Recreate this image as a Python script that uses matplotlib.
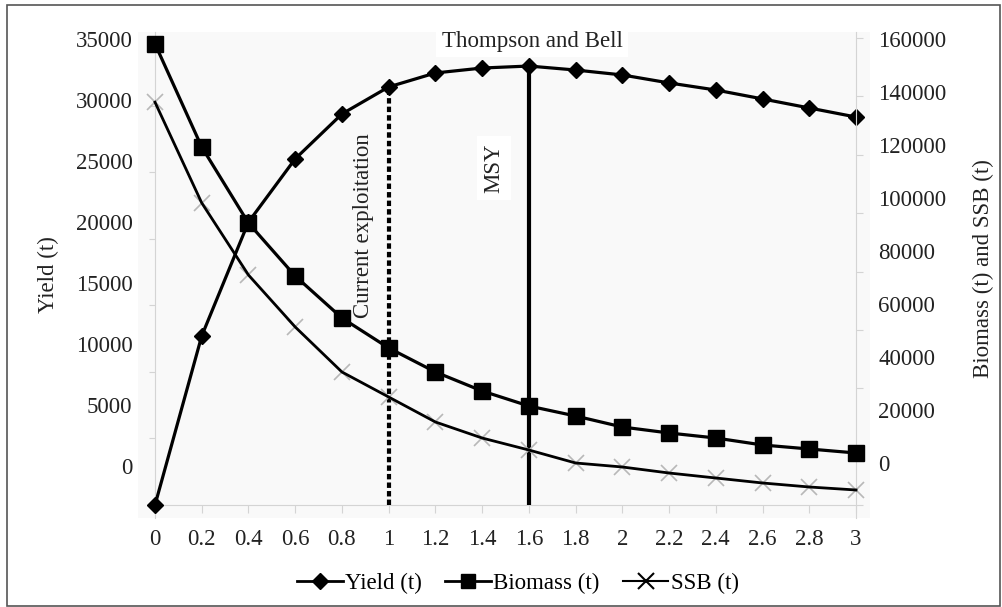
import matplotlib
matplotlib.use("Agg")
import matplotlib.pyplot as plt
from matplotlib.patches import Rectangle
from matplotlib.lines import Line2D

plt.rcParams['font.family'] = ['Liberation Serif', 'DejaVu Serif']

# ---- data ----
F = [0, 0.2, 0.4, 0.6, 0.8, 1.0, 1.2, 1.4, 1.6, 1.8, 2.0, 2.2, 2.4, 2.6, 2.8, 3.0]
yield_t = [0, 12700, 21250, 26000, 29370, 31400, 32450, 32820, 32970, 32670,
           32300, 31700, 31170, 30500, 29820, 29140]
biomass_t = [158000, 122650, 96600, 78450, 64070, 53800, 45570, 39060, 33920,
             30490, 26720, 24670, 22950, 20560, 19190, 17820]
ssb_t = [138000, 103500, 78800, 61000, 45570, 37000, 28440, 22950, 18840,
         14390, 13020, 10960, 9250, 7540, 6170, 5140]
x_ticks = [0, 0.2, 0.4, 0.6, 0.8, 1, 1.2, 1.4, 1.6, 1.8, 2, 2.2, 2.4, 2.6, 2.8, 3]
left_ticks = [0, 5000, 10000, 15000, 20000, 25000, 30000, 35000]
right_ticks = [0, 20000, 40000, 60000, 80000, 100000, 120000, 140000, 160000]
current_F = 1.0
msy_F = 1.6

FS = 16.5
TXT = '#222222'

W, H = 1002, 607
fig = plt.figure(figsize=(W / 100, H / 100), dpi=100)

def fx(px):
    return px / W

def fy(py):
    return 1 - py / H

# outer frame
fig.patches.append(Rectangle((fx(7), fy(606)), fx(993), 601 / H, transform=fig.transFigure,
                             fill=False, edgecolor='#555555', linewidth=1.2))

rect = [fx(138), fy(518), 732 / W, 486 / H]
ax = fig.add_axes(rect)
ax.set_facecolor('#f9f9f9')
ax.set_xlim(-17 / 233.67, 3 + 14 / 233.67)
ax.set_ylim(-976, 35526)

spine_c = '#d4d4d4'
for s in ['top', 'right']:
    ax.spines[s].set_visible(False)
ax.spines['left'].set_position(('data', 0))
ax.spines['bottom'].set_position(('data', 0))
ax.spines['left'].set_color(spine_c)
ax.spines['bottom'].set_color(spine_c)
ax.spines['bottom'].set_bounds(0, 3)
ax.set_xticks(x_ticks)
ax.set_xticklabels([('%g' % v) for v in x_ticks], fontsize=FS, color=TXT)
ax.set_yticks(left_ticks)
ax.tick_params(axis='y', labelleft=False, length=4, color=spine_c)
ax.tick_params(axis='x', length=6, color=spine_c, pad=11)

ax2 = ax.twinx()
ax2.set_ylim(-4454, 162056)
for s in ['top', 'left', 'bottom']:
    ax2.spines[s].set_visible(False)
ax2.spines['right'].set_position(('data', 3))
ax2.spines['right'].set_color(spine_c)
ax2.set_yticks(right_ticks)
ax2.tick_params(axis='y', labelright=False, length=5, color=spine_c)

# vertical reference lines
ax.vlines(current_F, 0, yield_t[F.index(current_F)], colors='black', linewidth=3,
          linestyles=(0, (1.3, 0.75)), zorder=3)
ax.vlines(msy_F, 0, yield_t[F.index(msy_F)], colors='black', linewidth=3, zorder=3)

# series
ax.plot(F, yield_t, color='black', linewidth=2.3, marker='D', markersize=8.5, zorder=4,
        clip_on=False)
ax2.plot(F, biomass_t, color='black', linewidth=2.3, marker='s', markersize=12, zorder=4,
         clip_on=False)
ax2.plot(F, ssb_t, color='black', linewidth=2.0, zorder=4, clip_on=False)
ax2.plot(F, ssb_t, linestyle='none', marker='x', markersize=11, markeredgewidth=1.2,
         color='#b8b8b8', zorder=3, clip_on=False)

# tick label axes (labels placed as in the reference)
labL = fig.add_axes(rect, frameon=False)
labL.set_xticks([])
labL.set_ylim((466 - 518) / 61 * 5000, (466 - 32) / 61 * 5000)
labL.set_yticks(left_ticks)
labL.set_yticklabels([str(v) for v in left_ticks], fontsize=FS, color=TXT)
labL.tick_params(axis='y', length=0, pad=4)
labL.patch.set_visible(False)

labR = fig.add_axes(rect, frameon=False)
labR.set_xticks([])
labR.set_ylim((463 - 518) / 53 * 20000, (463 - 32) / 53 * 20000)
labR.yaxis.tick_right()
labR.set_yticks(right_ticks)
labR.set_yticklabels([str(v) for v in right_ticks], fontsize=FS, color=TXT)
labR.tick_params(axis='y', length=0, pad=6)
labR.patch.set_visible(False)

# texts
fig.text(fx(48), fy(275), 'Yield (t)', rotation=90, ha='center', va='center',
         fontsize=FS, color=TXT)
fig.text(fx(983), fy(269), 'Biomass (t) and SSB (t)', rotation=90, ha='center',
         va='center', fontsize=FS, color=TXT)
fig.text(fx(532), fy(41), 'Thompson and Bell', ha='center', va='center', fontsize=FS,
         color=TXT,
         bbox=dict(facecolor='white', edgecolor='none', boxstyle='square,pad=0.25'))
fig.text(fx(363), fy(226), 'Current exploitation', rotation=90, ha='center', va='center',
         fontsize=FS, color=TXT)
fig.text(fx(494), fy(168), 'MSY', rotation=90, ha='center', va='center', fontsize=FS,
         color=TXT,
         bbox=dict(facecolor='white', edgecolor='none', boxstyle='square,pad=0.3'))

# legend
handles = [
    Line2D([], [], color='black', linewidth=2, marker='D', markersize=8),
    Line2D([], [], color='black', linewidth=2, marker='s', markersize=10),
    Line2D([], [], color='black', linewidth=1.5, marker='x', markersize=12,
           markeredgewidth=1.5),
]
fig.legend(handles, ['Yield (t)', 'Biomass (t)', 'SSB (t)'], loc='center',
           bbox_to_anchor=(fx(518), fy(583)), ncol=3, frameon=False, fontsize=FS,
           handlelength=2.0, handletextpad=0.1, columnspacing=1.0)

fig.savefig('out.png', dpi=100)
